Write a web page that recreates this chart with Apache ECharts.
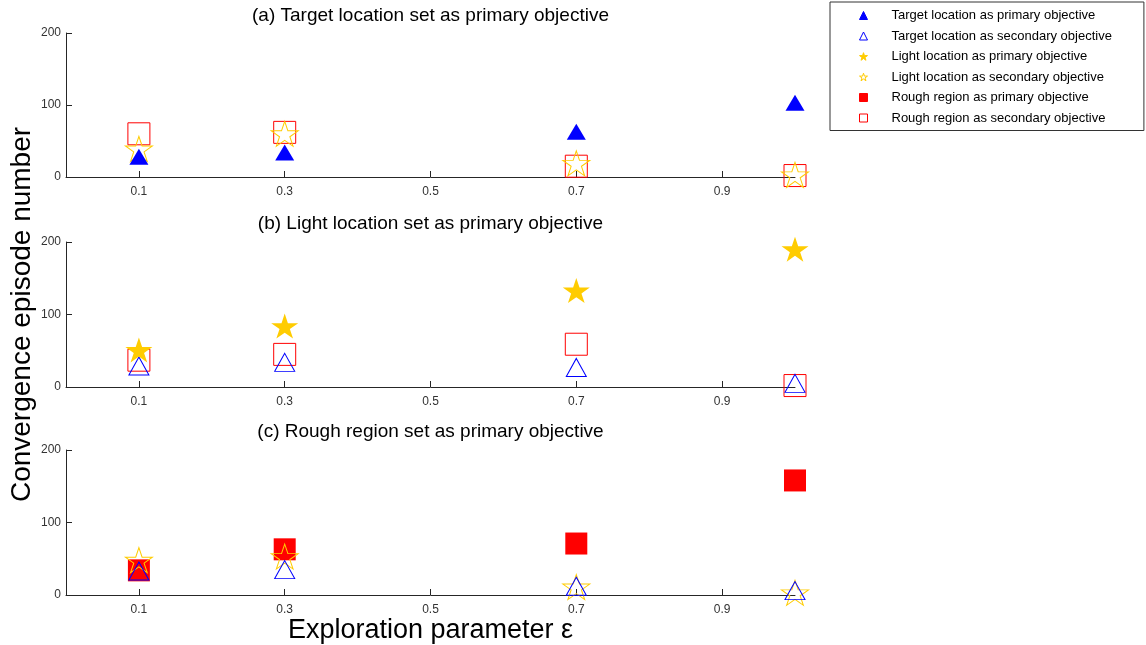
<!DOCTYPE html>
<html>
<head>
<meta charset="utf-8">
<script src="https://cdn.jsdelivr.net/npm/echarts@6/dist/echarts.min.js"></script>
<style>
html,body{margin:0;padding:0;background:#fff;}
#chart{width:1146px;height:645px;}
</style>
</head>
<body>
<div id="chart"></div>
<script>
// ---- data ----
const xValues = [0.1, 0.3, 0.7, 1.0];
const xTickValues = [0.1, 0.3, 0.5, 0.7, 0.9];
const panelTitles = [
  '(a) Target location set as primary objective',
  '(b) Light location set as primary objective',
  '(c) Rough region set as primary objective'
];
const seriesNames = [
  'Target location as primary objective',
  'Target location as secondary objective',
  'Light location as primary objective',
  'Light location as secondary objective',
  'Rough region as primary objective',
  'Rough region as secondary objective'
];
// panel (a)
const aRoughSecondary = [60, 62, 15, 2];
const aLightSecondary = [39, 60, 19, 3];
const aTargetPrimary  = [28, 34, 63, 103];
// panel (b)
const bRoughSecondary = [37, 45, 59, 2];
const bTargetSecondary = [29, 34, 27, 5];
const bLightPrimary    = [51, 84, 133, 190];
// panel (c)
const cRoughPrimary    = [34, 63, 71, 158];
const cLightSecondary  = [48, 53, 11, 3];
const cTargetSecondary = [33, 35, 12, 6];

const yLabel = 'Convergence episode number';
const xLabel = 'Exploration parameter \u03b5';

// ---- styles ----
const FONT = '"Liberation Sans", Arial, sans-serif';
const BLUE = '#0000ff', GOLD = '#ffcc00', RED = '#ff0000';
const STAR = 'path://M0,-100L22.45,-30.9L95.1,-30.9L36.3,11.8L58.8,80.9L0,38.2L-58.8,80.9L-36.3,11.8L-95.1,-30.9L-22.45,-30.9Z';

const styleFor = {};
styleFor[seriesNames[0]] = {symbol:'triangle', symbolSize:[19,16], itemStyle:{color:BLUE, borderColor:BLUE, borderWidth:0, opacity:1}};
styleFor[seriesNames[1]] = {symbol:'triangle', symbolSize:[20,18], itemStyle:{color:'transparent', borderColor:BLUE, borderWidth:1, opacity:1}};
styleFor[seriesNames[2]] = {symbol:STAR, symbolSize:[27,25], itemStyle:{color:GOLD, borderColor:GOLD, borderWidth:0, opacity:1}};
styleFor[seriesNames[3]] = {symbol:STAR, symbolSize:[27,25], itemStyle:{color:'transparent', borderColor:GOLD, borderWidth:1, opacity:1}};
styleFor[seriesNames[4]] = {symbol:'rect', symbolSize:22, itemStyle:{color:RED, borderColor:RED, borderWidth:0, opacity:1}};
styleFor[seriesNames[5]] = {symbol:'rect', symbolSize:22, itemStyle:{color:'transparent', borderColor:RED, borderWidth:1, opacity:1}};

function mk(name, vals, idx, z) {
  const s = styleFor[name];
  return {
    type:'scatter', name:name, xAxisIndex:idx, yAxisIndex:idx, z:z,
    symbol:s.symbol, symbolSize:s.symbolSize, itemStyle:s.itemStyle,
    emphasis:{disabled:true}, silent:true, animation:false,
    data: xValues.map((x,i)=>[x, vals[i]])
  };
}

const gridTops = [33, 242, 450];
const gridHeights = [144, 145, 145];
const GL = 66, GW = 729;

const grids = gridTops.map((t,i)=>({left:GL, width:GW, top:t, height:gridHeights[i],
  containLabel:false, outerBoundsMode:'none'}));
const axisColor = '#262626';
const xAxes = gridTops.map((t,i)=>({
  type:'value', gridIndex:i, min:0, max:1,
  axisLine:{show:true, lineStyle:{color:axisColor, width:1}},
  axisTick:{show:true, inside:true, length:6, customValues:xTickValues, lineStyle:{color:axisColor}},
  axisLabel:{show:true, customValues:xTickValues, margin:9, fontSize:12, color:'#333', fontFamily:FONT,
    formatter:(v)=>String(v)},
  splitLine:{show:false},
  name: i===2 ? xLabel : '', nameLocation:'middle', nameGap:22, nameMoveOverlap:false,
  nameTextStyle:{fontSize:27, color:'#000', fontFamily:FONT, verticalAlign:'top'}
}));
const yAxes = gridTops.map((t,i)=>({
  type:'value', gridIndex:i, min:0, max:200, interval:100,
  axisLine:{show:true, lineStyle:{color:axisColor, width:1}},
  axisTick:{show:true, inside:true, length:6, lineStyle:{color:axisColor}},
  axisLabel:{show:true, margin:5, fontSize:12, color:'#333', fontFamily:FONT},
  splitLine:{show:false},
  name: i===1 ? yLabel : '', nameLocation:'middle', nameGap:30, nameRotate:90, nameMoveOverlap:false,
  nameTextStyle:{fontSize:28, color:'#000', fontFamily:FONT}
}));

const titleTops = [6, 214, 422];
const titles = panelTitles.map((txt,i)=>({
  text:txt, left:GL+GW/2, top:titleTops[i], textAlign:'center', padding:0,
  textStyle:{fontSize:19, fontWeight:'normal', color:'#000', fontFamily:FONT}
}));

const series = [
  mk(seriesNames[5], aRoughSecondary, 0, 2),
  mk(seriesNames[3], aLightSecondary, 0, 3),
  mk(seriesNames[0], aTargetPrimary, 0, 4),
  mk(seriesNames[5], bRoughSecondary, 1, 2),
  mk(seriesNames[1], bTargetSecondary, 1, 3),
  mk(seriesNames[2], bLightPrimary, 1, 4),
  mk(seriesNames[4], cRoughPrimary, 2, 2),
  mk(seriesNames[3], cLightSecondary, 2, 3),
  mk(seriesNames[1], cTargetSecondary, 2, 4)
];

const chart = echarts.init(document.getElementById('chart'), null, {renderer:'canvas'});
chart.setOption({
  backgroundColor:'#fff',
  animation:false,
  title: titles,
  grid: grids,
  xAxis: xAxes,
  yAxis: yAxes,
  legend: {
    data: seriesNames,
    orient:'vertical', left:830, top:2,
    padding:[7, 32, 6, 29],
    itemWidth:8, itemHeight:8, itemGap:7.5,
    selectedMode:false,
    borderColor:'#333', borderWidth:1, backgroundColor:'#fff',
    itemStyle:{borderWidth:1},
    textStyle:{fontSize:13, color:'#000', fontFamily:FONT, padding:[0,0,0,19]}
  },
  series: series
});
</script>
</body>
</html>
